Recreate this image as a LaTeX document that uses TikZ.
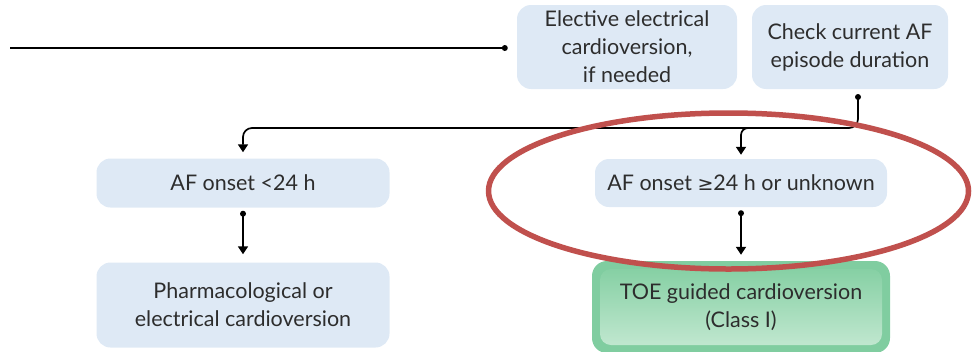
\documentclass[tikz,border=0pt]{standalone}
\usepackage{fontspec}
\setmainfont{Lato}
\newfontfamily\symfont{DejaVu Sans}
\usetikzlibrary{arrows.meta,calc}
\definecolor{boxblue}{RGB}{222,233,245}
\definecolor{txt}{RGB}{45,45,45}
\definecolor{greenedge}{RGB}{128,205,160}
\definecolor{greentop}{RGB}{134,208,164}
\definecolor{greenbot}{RGB}{192,231,207}
\definecolor{ringred}{RGB}{192,80,77}
\tikzset{
  box/.style={rectangle, rounded corners=14pt, fill=boxblue, text=txt,
    align=center, inner sep=0pt, font=\fontsize{21.5}{28}\selectfont},
  conn/.style={line width=1.7pt, black},
  arr/.style={conn, -{Triangle[width=10pt,length=8pt]}},
  dotted end/.style={fill=black, circle, inner sep=0pt, minimum size=6pt},
}
\begin{document}
\begin{tikzpicture}[x=1pt,y=-1pt]
\useasboundingbox (0,0) rectangle (973,351);

% upper row
\node[box, minimum width=220pt, minimum height=84pt] (elec) at (627,47)
  {Elective electrical\\cardioversion,\\if needed};
\node[box, minimum width=196pt, minimum height=84pt] (check) at (850,47)
  {Check current AF\\episode duration};

% incoming line ending in a dot
\coordinate (lin) at (10,48);
\node[dotted end] (lindot) at ($(elec.west)+(-12,1)$) {};
\draw[conn] (lin) -- (lindot.center);

% middle row
\node[box, minimum width=293pt, minimum height=49pt] (lt) at (243,183)
  {AF onset <24 h};
\node[box, minimum width=292pt, minimum height=48pt] (ge) at (741,183)
  {AF onset {\symfont\fontsize{19}{22}\selectfont ≥}24 h or unknown};

% bottom row
\node[box, minimum width=293pt, minimum height=85pt] (pharm) at (243,305)
  {Pharmacological or\\electrical cardioversion};

% green TOE box with a darker rim and a lighter base
\node[rectangle, rounded corners=15pt, fill=greenedge, minimum width=298pt,
  minimum height=92pt, inner sep=0pt] (toeo) at (741,307) {};
\node[rectangle, rounded corners=11pt, top color=greentop, bottom color=greenbot,
  minimum width=282pt, minimum height=76pt, inner sep=0pt, text=txt,
  align=center, font=\fontsize{21.5}{28}\selectfont] (toe) at (741,307)
  {TOE guided cardioversion\\(Class I)};

% split from the duration check
\node[dotted end] (chkdot) at (858,97) {};
\draw[arr, rounded corners=9pt] (chkdot.center) |- (600,128) -| ($(lt.north)+(0,-6)$);
\draw[arr, rounded corners=7pt] (780,128) -| ($(ge.north)+(0,-4)$);

% downward steps
\node[dotted end] (ltdot) at ($(lt.south)+(0,6)$) {};
\draw[arr] (ltdot.center) -- ($(pharm.north)+(0,-8)$);
\node[dotted end] (gedot) at ($(ge.south)+(0,6)$) {};
\draw[arr] (gedot.center) -- ($(toeo.north)+(0,-6)$);

% highlight ring
\draw[ringred, line width=5.5pt] (728.5,191) ellipse [x radius=240, y radius=78];
\end{tikzpicture}
\end{document}
